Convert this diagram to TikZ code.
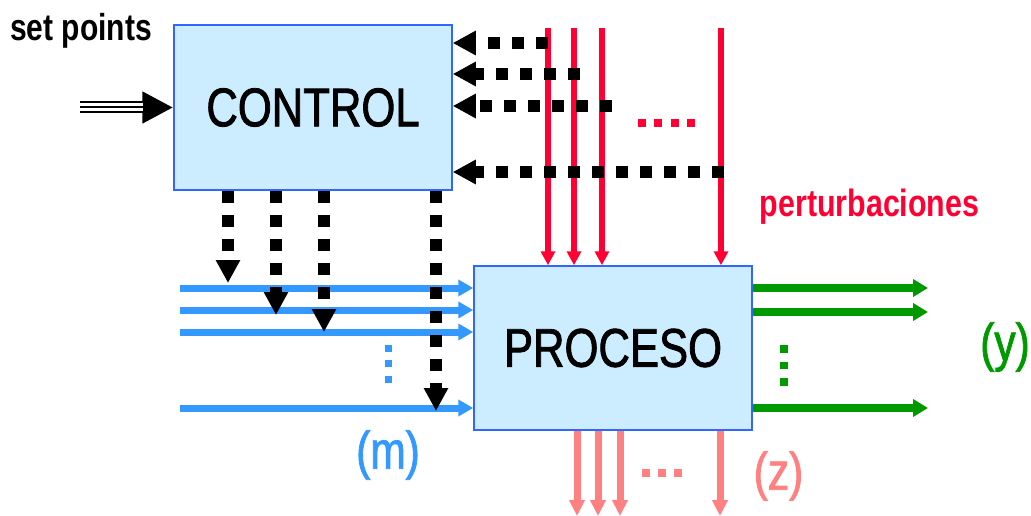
\documentclass[tikz,border=0pt]{standalone}
\usepackage{fontspec}
\setmainfont[FakeStretch=0.8]{Liberation Sans}
\newfontfamily\boxfont[FakeStretch=0.8, FakeBold=1.5]{Liberation Sans}
\usetikzlibrary{arrows.meta}
\definecolor{boxfill}{HTML}{CCECFF}
\definecolor{boxline}{HTML}{3366FF}
\definecolor{pred}{HTML}{FF0033}
\definecolor{zpink}{HTML}{FF8080}
\definecolor{pgreen}{HTML}{009900}
\definecolor{pblue}{HTML}{3399FF}
\begin{document}
\begin{tikzpicture}[x=1pt,y=-1pt,
  box/.style={draw=boxline, fill=boxfill, line width=1.5pt, inner sep=0pt, font=\boxfont\fontsize{54.5}{60}\selectfont},
  ctl/.style={line width=12pt, dash pattern=on 12pt off 12pt, -{Triangle[length=23pt,width=23pt]}},
  dist/.style={pred, line width=6pt, -{Triangle[length=14pt,width=14pt]}},
  manip/.style={pblue, line width=7pt, -{Triangle[length=15pt,width=16pt]}},
  outy/.style={pgreen, line width=7.5pt, -{Triangle[length=15pt,width=17pt]}},
  outz/.style={zpink, line width=7pt, -{Triangle[length=16pt,width=15pt]}},
  lbl/.style={inner sep=0pt},
  paren/.style={inner sep=0pt, font=\boxfont\fontsize{53}{56}\selectfont},
]
\useasboundingbox (0,0) rectangle (1031,516);

% boxes
\node[box, minimum width=278pt, minimum height=165pt] (control) at (313,107.5) {CONTROL};
\node[box, minimum width=278pt, minimum height=164pt] (proceso) at (613,348) {PROCESO};

% labels
\node[lbl, anchor=base west, font=\bfseries\fontsize{37.5}{40}\selectfont] (splbl) at (10,40.7) {set points};
\node[lbl, anchor=base, text=pred, font=\bfseries\fontsize{38}{40}\selectfont] (pert) at (869.5,216.7) {perturbaciones};
\node[paren, text=pblue] (mlbl) at (388,455) {(m)};
\node[paren, text=zpink] (zlbl) at (778.5,476) {(z)};
\node[paren, text=pgreen] (ylbl) at (1005,347) {(y)};

% set points triple arrow
\coordinate (spin) at (80,107.5);
\coordinate (spend) at (143,107.5);
\draw[line width=12pt, -{Triangle[length=31pt,width=30pt]}] (spin) -- (control.west);
\draw[white, line width=8pt] (spin) -- (spend);
\draw[line width=2pt] (spin) -- (spend);

% disturbances (red)
\foreach \n/\x in {1/548,2/574,3/602,4/721}{
  \coordinate (r\n) at (\x,28);
  \draw[dist] (r\n) -- (r\n |- proceso.north);
}

% manipulated variables (blue)
\foreach \n/\y in {1/288,2/310,3/332,4/408}{
  \coordinate (m\n) at (180,\y);
  \draw[manip] (m\n) -- (m\n -| proceso.west);
}

% measurements into control (black dotted)
\foreach \n/\x/\y in {1/548/43,2/580/74,3/612/106,4/724/172}{
  \coordinate (d\n) at (\x,\y);
  \draw[ctl] (d\n) -- (d\n -| control.east);
}

% control outputs (black dotted)
\foreach \n/\x/\y in {1/228/283,2/276/315,3/324/332,4/436/411}{
  \coordinate (c\n) at (\x,\y);
  \draw[ctl] (c\n |- control.south) -- (c\n);
}

% outputs y (green)
\foreach \n/\y in {1/288,2/312,3/408}{
  \coordinate (y\n) at (928,\y);
  \draw[outy] (y\n -| proceso.east) -- (y\n);
}

% outputs z (pink)
\foreach \n/\x in {1/577,2/598,3/620,4/720}{
  \coordinate (z\n) at (\x,516);
  \draw[outz] (z\n |- proceso.south) -- (z\n);
}

% ellipsis dots
\draw[pblue, line width=7pt, dash pattern=on 7pt off 8.5pt] (388,344.5) -- (388,383);
\draw[pred, line width=8pt, dash pattern=on 8pt off 8.3pt] (638,123) -- (695,123);
\draw[zpink, line width=8pt, dash pattern=on 8pt off 8pt] (642,473) -- (682,473);
\draw[pgreen, line width=7.5pt, dash pattern=on 7.5pt off 9pt] (784,345) -- (784,386);
\end{tikzpicture}
\end{document}
